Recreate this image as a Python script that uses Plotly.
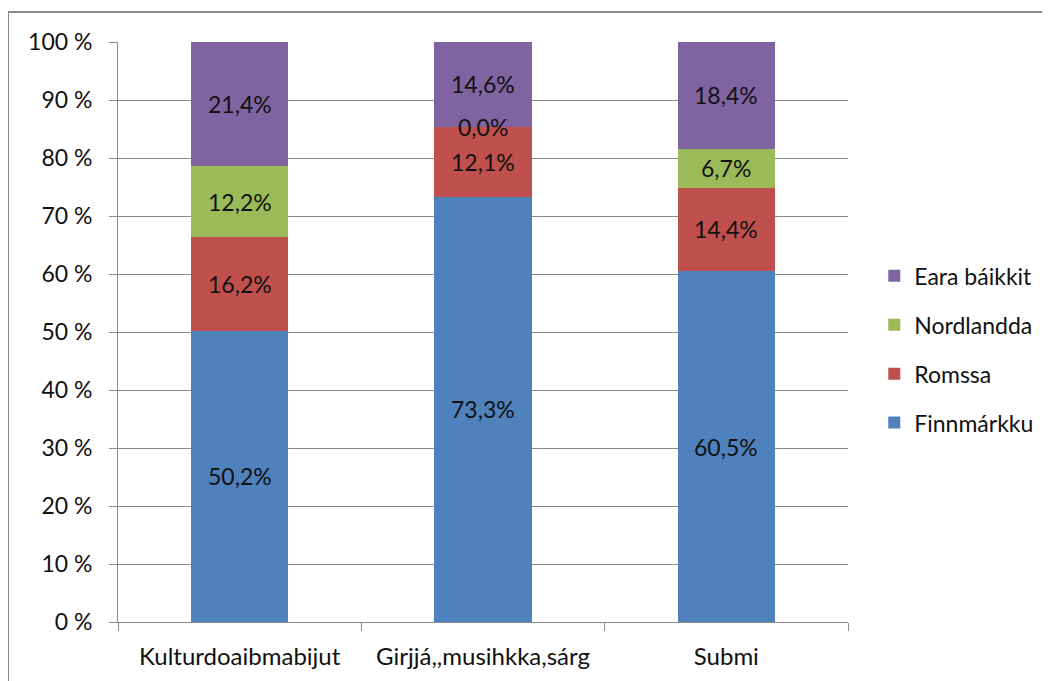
import plotly.graph_objects as go

categories = ["Kulturdoaibmabijut", "Girjjá,,musihkka,sárg", "Submi"]
series_names = ["Finnmárkku", "Romssa", "Nordlandda", "Eara báikkit"]
finnmarkku = [50.2, 73.3, 60.5]
romssa = [16.2, 12.1, 14.4]
nordlandda = [12.2, 0.0, 6.7]
eara = [21.4, 14.6, 18.4]
colors = ["#4F81BD", "#C0504D", "#9BBB59", "#8064A2"]
y_ticks = [0, 10, 20, 30, 40, 50, 60, 70, 80, 90, 100]
y_tick_labels = [f"{v} %" for v in y_ticks]

series_values = [finnmarkku, romssa, nordlandda, eara]
FONT = "Lato, 'Open Sans', sans-serif"
FS = 23

L, T, PW, PH = 110, 34, 730, 580
W, H = 1050, 681

fig = go.Figure()
for i, (name, vals, col) in enumerate(zip(series_names, series_values, colors)):
    fig.add_trace(go.Bar(
        x=categories, y=vals, name=name, marker=dict(color=col, line=dict(width=0)),
        width=0.4, legendgroup=f"g{i}", legendrank=len(series_names) - i,
    ))

annotations = []
for j, cat in enumerate(categories):
    base = 0.0
    for vals in series_values:
        v = vals[j]
        annotations.append(dict(
            x=cat, y=base + v / 2, xref="x", yref="y", text=f"{v:.1f}%".replace(".", ","),
            showarrow=False, font=dict(family=FONT, size=FS, color="#111"),
        ))
        base += v

fig.update_layout(
    barmode="stack",
    width=W, height=H,
    margin=dict(l=L, r=W - L - PW, t=T, b=H - T - PH),
    paper_bgcolor="white", plot_bgcolor="white",
    font=dict(family=FONT, size=FS, color="#111"),
    annotations=annotations,
    legend=dict(
        traceorder="grouped", tracegroupgap=16,
        x=1.036, xanchor="left", y=0.47, yanchor="middle",
        font=dict(family=FONT, size=FS, color="#111"),
        itemwidth=30,
    ),
    shapes=[dict(type="rect", xref="paper", yref="paper",
                 x0=(0 - L) / PW, x1=(1060 - L) / PW,
                 y0=(T + PH - 700) / PH, y1=(T + PH - 4) / PH,
                 line=dict(color="#888888", width=2), fillcolor="rgba(0,0,0,0)", layer="below")],
)
fig.update_yaxes(
    range=[0, 100], tickvals=y_ticks, ticktext=y_tick_labels,
    showgrid=True, gridcolor="#8a8a8a", gridwidth=1,
    showline=True, linecolor="#8a8a8a", linewidth=1,
    ticks="outside", ticklen=8, tickcolor="#8a8a8a", zeroline=False,
    ticklabelstandoff=12,
    tickfont=dict(family=FONT, size=FS, color="#111"),
)
fig.update_xaxes(
    showline=True, linecolor="#8a8a8a", linewidth=1,
    ticks="outside", ticklen=8, tickcolor="#8a8a8a", tickson="boundaries",
    ticklabelstandoff=13,
    tickfont=dict(family=FONT, size=24, color="#111"),
)

fig.write_html("out.html")
